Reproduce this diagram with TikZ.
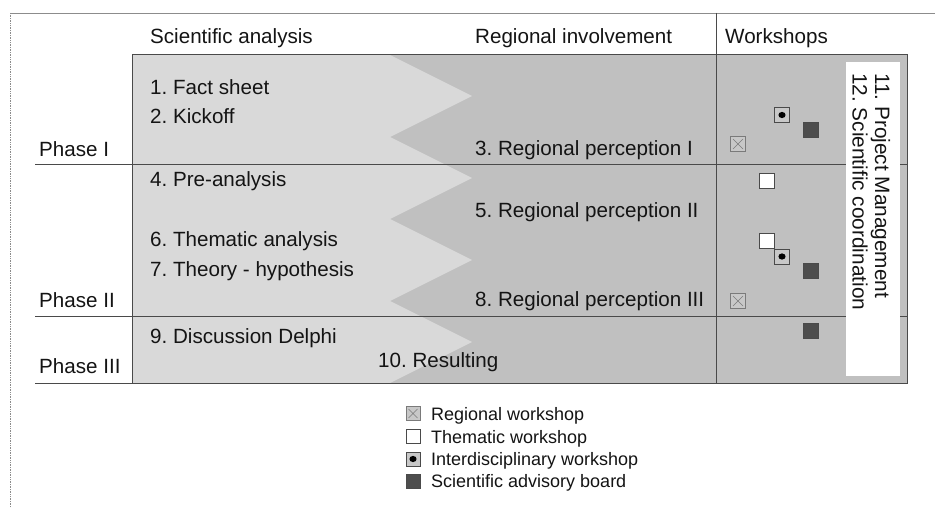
\documentclass[tikz,border=0pt]{standalone}
\usepackage{fontspec}
\setmainfont{Liberation Sans}
\definecolor{lt}{HTML}{D9D9D9}
\definecolor{dk}{HTML}{C0C0C0}
\definecolor{ln}{HTML}{4A4A4A}
\definecolor{sab}{HTML}{4D4D4D}
\definecolor{txt}{HTML}{141414}
\definecolor{frm}{HTML}{8C8C8C}
\definecolor{mkl}{HTML}{7A7A7A}
\definecolor{mkfill}{HTML}{C8C8C8}
\begin{document}
\frenchspacing
\begin{tikzpicture}[x=1pt,y=-1pt,
  font=\fontsize{20.6}{23}\selectfont,
  lbl/.style={anchor=base west, inner sep=0pt, text=txt},
  leglbl/.style={anchor=base west, inner sep=0pt, text=txt, font=\fontsize{18}{21}\selectfont},
  wsbase/.style={draw=ln, line width=0.9pt, minimum size=15pt, inner sep=0pt, outer sep=0pt},
  regws/.style={wsbase, draw=mkl, fill=mkfill,
    path picture={
      \draw[mkl, line width=0.6pt]
        ([shift={(2.5pt,2.5pt)}]path picture bounding box.south west) --
        ([shift={(-2.5pt,-2.5pt)}]path picture bounding box.north east)
        ([shift={(2.5pt,-2.5pt)}]path picture bounding box.north west) --
        ([shift={(-2.5pt,2.5pt)}]path picture bounding box.south east);}},
  themws/.style={wsbase, fill=white},
  interws/.style={wsbase, fill=mkfill,
    path picture={\fill[black] (path picture bounding box.center) ellipse (3.6pt and 3.1pt);}},
  sabws/.style={wsbase, fill=sab},
  legsz/.style={minimum size=14pt}
]
\useasboundingbox (0,0) rectangle (935,508);
\fill[white] (0,0) rectangle (935,508);

% outer frame
\draw[frm, line width=0.8pt] (10,13) -- (935,13);
\draw[frm, line width=0.7pt, densely dotted] (10,13) -- (10,508);

% main gray areas
\fill[dk] (132,55) rectangle (907,383);
\fill[lt] (132,55) -- (390,55) -- (472,96) -- (390,137) -- (472,178) -- (390,219)
  -- (472,260) -- (390,301) -- (472,342) -- (390,383) -- (132,383) -- cycle;
\draw[ln, line width=1pt] (132,55) rectangle (907,383);

% phase lines
\draw[ln, line width=1pt] (35,164.5) -- (907,164.5);
\draw[ln, line width=1pt] (35,316) -- (907,316);
\draw[ln, line width=1pt] (35,383) -- (907,383);
% workshop column separator
\draw[ln, line width=1pt] (716,13) -- (716,383);

% white box with vertical text
\fill[white] (846,62) rectangle (900,376);
\node[rotate=-90, anchor=north west, align=left, inner sep=0pt, text=txt,
  font=\fontsize{20.8}{22.5}\selectfont] (pm) at (890.5,73)
  {11. Project Management\\12. Scientific coordination};

% headers
\node[lbl] (hsa) at (150,44) {Scientific analysis};
\node[lbl] (hri) at (475,44) {Regional involvement};
\node[lbl] (hws) at (725,44) {Workshops};

% phases
\node[lbl] (p1) at (39,157) {Phase I};
\node[lbl] (p2) at (39,307) {Phase II};
\node[lbl] (p3) at (39,373) {Phase III};

% items
\node[lbl] (i1) at (150,95) {1. Fact sheet};
\node[lbl] (i2) at (150,123.5) {2. Kickoff};
\node[lbl] (i3) at (475,156) {3. Regional perception I};
\node[lbl] (i4) at (150,187) {4. Pre-analysis};
\node[lbl] (i5) at (475,218) {5. Regional perception II};
\node[lbl] (i6) at (150,247) {6. Thematic analysis};
\node[lbl] (i7) at (150,276) {7. Theory - hypothesis};
\node[lbl] (i8) at (475,306) {8. Regional perception III};
\node[lbl] (i9) at (150,343) {9. Discussion Delphi};
\node[lbl] (i10) at (378,367) {10. Resulting};

% workshop markers
\node[regws] (w1r) at (738,144) {};
\node[interws] (w1i) at (782,115) {};
\node[sabws] (w1s) at (811,130) {};
\node[themws] (w2t) at (767,181) {};
\node[themws] (w2t2) at (767,241) {};
\node[interws] (w2i) at (782,256.5) {};
\node[sabws] (w2s) at (811,271) {};
\node[regws] (w2r) at (738,301) {};
\node[sabws] (w3s) at (811,330.5) {};

% legend
\node[regws, legsz] (lr) at (413,413.5) {};
\node[themws, legsz] (lt) at (413,436.5) {};
\node[interws, legsz] (li) at (413,459) {};
\node[sabws, legsz] (ls) at (413,481) {};
\node[leglbl] (lrt) at (431,420.5) {Regional workshop};
\node[leglbl] (ltt) at (431,443) {Thematic workshop};
\node[leglbl] (lit) at (431,465.5) {Interdisciplinary workshop};
\node[leglbl] (lst) at (431,487.5) {Scientific advisory board};
\end{tikzpicture}
\end{document}
